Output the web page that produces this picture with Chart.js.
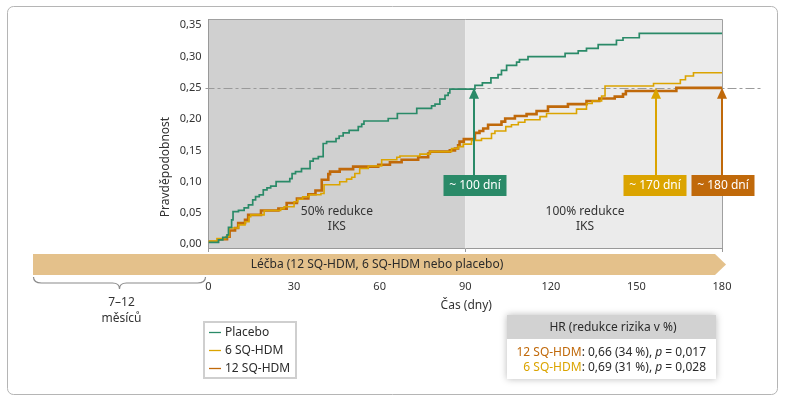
<!DOCTYPE html>
<html>
<head>
<meta charset="utf-8">
<script src="https://cdn.jsdelivr.net/npm/chart.js@4.4.0/dist/chart.umd.min.js"></script>
<style>
  html, body { margin: 0; padding: 0; background: #fff; }
  #wrap { position: relative; width: 788px; height: 398px; }
</style>
</head>
<body>
<div id="wrap"><canvas id="km"></canvas></div>
<script>
// Kaplan-Meier: cumulative probability of event, day -> value
const placeboDays = [0, 3.5, 5, 6.5, 7, 8.1, 8.6, 10.5, 12.5, 14, 15.5, 16.5, 17.8, 19.2, 20.5, 21.8, 23.7, 28.5, 29.3, 30.5, 32.6, 35.6, 36.7, 38.5, 40.2, 41.4, 44.7, 45.8, 47.2, 49.3, 52.5, 53.7, 54.5, 63, 66.2, 73, 78.2, 79.4, 81.1, 82.9, 84, 84.6, 93.4, 96, 99, 101.5, 102.7, 104.5, 108, 109, 112, 125, 129.6, 132.5, 136.6, 143, 145.3, 151, 180];
const placeboProb = [0.003, 0.007, 0.011, 0.015, 0.027, 0.039, 0.052, 0.054, 0.058, 0.063, 0.071, 0.076, 0.079, 0.087, 0.09, 0.093, 0.1, 0.105, 0.113, 0.116, 0.121, 0.133, 0.137, 0.14, 0.161, 0.164, 0.169, 0.173, 0.178, 0.182, 0.188, 0.192, 0.197, 0.201, 0.209, 0.217, 0.221, 0.224, 0.232, 0.238, 0.242, 0.248, 0.254, 0.258, 0.266, 0.271, 0.278, 0.286, 0.291, 0.295, 0.3, 0.305, 0.309, 0.313, 0.319, 0.326, 0.33, 0.337, 0.337];

const sq6Days = [0, 3, 6, 7.2, 10.5, 12.8, 14.2, 14.8, 19.5, 25.3, 26.5, 30, 31.3, 33, 35.3, 39.4, 40.5, 46, 48.4, 50.2, 51.3, 53, 56, 60.7, 66, 67.1, 74.1, 77.6, 85.2, 87.5, 89.3, 92.2, 95.7, 99.2, 100.4, 104.2, 106.2, 108.6, 110.9, 116.2, 118.5, 129, 132.5, 134.5, 137.8, 139, 156, 165.4, 167.2, 170, 180];
const sq6Prob = [0.005, 0.009, 0.012, 0.026, 0.031, 0.036, 0.044, 0.047, 0.054, 0.057, 0.06, 0.068, 0.072, 0.076, 0.079, 0.081, 0.095, 0.1, 0.104, 0.107, 0.113, 0.121, 0.125, 0.135, 0.139, 0.141, 0.144, 0.148, 0.153, 0.156, 0.16, 0.166, 0.169, 0.177, 0.181, 0.188, 0.191, 0.195, 0.199, 0.204, 0.209, 0.216, 0.225, 0.229, 0.237, 0.253, 0.257, 0.263, 0.269, 0.274, 0.274];

const sq12Days = [0, 3.3, 6.5, 7.4, 9.3, 10.4, 12.8, 13.9, 18.4, 24.5, 27.4, 31, 35, 37.5, 39.7, 42, 42.6, 46, 50.7, 59.5, 63.6, 67.7, 73.5, 77, 77.6, 84.6, 86.4, 87.5, 88, 89.5, 93.4, 95, 96.3, 98, 102.7, 104, 107.4, 111.5, 115, 119, 126, 132.5, 137, 142.4, 145.3, 146.3, 164, 180];
const sq12Prob = [0.004, 0.008, 0.012, 0.022, 0.026, 0.034, 0.039, 0.047, 0.054, 0.057, 0.066, 0.073, 0.08, 0.086, 0.103, 0.112, 0.116, 0.12, 0.124, 0.127, 0.131, 0.135, 0.139, 0.145, 0.148, 0.15, 0.153, 0.158, 0.164, 0.168, 0.178, 0.181, 0.185, 0.191, 0.196, 0.201, 0.205, 0.208, 0.213, 0.22, 0.224, 0.229, 0.233, 0.236, 0.24, 0.245, 0.25, 0.25];

const seriesNames = ['Placebo', '6 SQ-HDM', '12 SQ-HDM'];
const xTicks = [0, 30, 60, 90, 120, 150, 180];
const yTicks = [0, 0.05, 0.1, 0.15, 0.2, 0.25, 0.3, 0.35];

// time to reach 25 % probability
const reachLevel = 0.25;
const arrowDays = [93, 157, 180];
const arrowTexts = ['~ 100 dní', '~ 170 dní', '~ 180 dní'];

const GREEN = '#2a8a68', YELLOW = '#dba400', ORANGE = '#c0690a';
const FONT = '"Noto Sans", "Open Sans", sans-serif';

function pts(days, vals) {
  return days.map((d, i) => ({ x: d, y: vals[i] }));
}

function richRight(ctx, parts, right, y) {
  let w = 0;
  parts.forEach(p => { ctx.font = p.f; w += ctx.measureText(p.t).width; });
  let x = right - w;
  ctx.textAlign = 'left';
  parts.forEach(p => {
    ctx.font = p.f; ctx.fillStyle = p.c;
    ctx.fillText(p.t, x, y);
    x += ctx.measureText(p.t).width;
  });
}

const decor = {
  id: 'decor',
  beforeDraw(chart) {
    const { ctx, chartArea: a, scales: { x } } = chart;
    ctx.save();
    ctx.fillStyle = '#fff';
    ctx.fillRect(0, 0, chart.width, chart.height);
    // outer frame
    ctx.strokeStyle = '#b5b5b5';
    ctx.lineWidth = 1;
    ctx.beginPath();
    ctx.roundRect(7.5, 6.5, 770, 388, 6);
    ctx.stroke();
    // two periods
    const x90 = x.getPixelForValue(90);
    ctx.fillStyle = '#d0d0d0';
    ctx.fillRect(a.left, a.top, x90 - a.left, a.bottom - a.top);
    ctx.fillStyle = '#ebebeb';
    ctx.fillRect(x90, a.top, a.right - x90, a.bottom - a.top);
    ctx.strokeStyle = '#a0a0a0';
    ctx.beginPath();
    ctx.moveTo(a.left, a.top + 0.5);
    ctx.lineTo(a.right + 0.5, a.top + 0.5);
    ctx.lineTo(a.right + 0.5, a.bottom);
    ctx.stroke();
    ctx.restore();
  },
  beforeDatasetsDraw(chart) {
    const { ctx, chartArea: a, scales: { y } } = chart;
    const yl = Math.round(y.getPixelForValue(reachLevel)) + 0.5;
    ctx.save();
    ctx.strokeStyle = '#9a9a9a';
    ctx.lineWidth = 1;
    ctx.setLineDash([9, 3, 3, 3]);
    ctx.beginPath();
    ctx.moveTo(a.left - 3, yl);
    ctx.lineTo(762, yl);
    ctx.stroke();
    ctx.restore();
  },
  afterDatasetsDraw(chart) {
    const { ctx, chartArea: a, scales: { x, y } } = chart;
    ctx.save();
    ctx.textBaseline = 'middle';

    // period labels
    ctx.fillStyle = '#333';
    ctx.font = '12px ' + FONT;
    ctx.textAlign = 'center';
    ctx.fillText('50% redukce', x.getPixelForValue(45), 212);
    ctx.fillText('IKS', x.getPixelForValue(45), 227);
    ctx.fillText('100% redukce', x.getPixelForValue(132), 212);
    ctx.fillText('IKS', x.getPixelForValue(132), 227);

    // arrows to 25 % level
    const colors = [GREEN, YELLOW, ORANGE];
    const boxCx = [475, 655, 723];
    const tipY = y.getPixelForValue(reachLevel);
    const boxTop = 175, boxH = 21, boxW = 63;
    arrowDays.forEach((d, i) => {
      const ax = Math.round(x.getPixelForValue(d));
      ctx.fillStyle = colors[i];
      ctx.strokeStyle = colors[i];
      ctx.lineWidth = 2;
      ctx.beginPath();
      ctx.moveTo(ax, tipY + 8);
      ctx.lineTo(ax, boxTop);
      ctx.stroke();
      ctx.beginPath();
      ctx.moveTo(ax, tipY);
      ctx.lineTo(ax - 5, tipY + 11);
      ctx.lineTo(ax + 5, tipY + 11);
      ctx.closePath();
      ctx.fill();
      ctx.fillRect(boxCx[i] - boxW / 2, boxTop, boxW, boxH);
      ctx.fillStyle = '#fff';
      ctx.font = '12px ' + FONT;
      ctx.textAlign = 'center';
      ctx.fillText(arrowTexts[i], boxCx[i], boxTop + boxH / 2 + 0.5);
    });

    // treatment bar
    const barL = 33, barR = x.getPixelForValue(180) - 7, tip = x.getPixelForValue(180) + 4;
    ctx.fillStyle = '#e4c18b';
    ctx.beginPath();
    ctx.moveTo(barL, 254);
    ctx.lineTo(barR, 254);
    ctx.lineTo(tip, 264.5);
    ctx.lineTo(barR, 275);
    ctx.lineTo(barL, 275);
    ctx.closePath();
    ctx.fill();
    ctx.fillStyle = '#2b2b2b';
    ctx.font = '12px ' + FONT;
    ctx.textAlign = 'center';
    ctx.fillText('Léčba (12 SQ-HDM, 6 SQ-HDM nebo placebo)', 377, 265);

    // brace for run-in period
    const bl = 33.5, br = x.getPixelForValue(0) - 3, bm = (bl + br) / 2;
    ctx.strokeStyle = '#8a8a8a';
    ctx.lineWidth = 1.2;
    ctx.beginPath();
    ctx.moveTo(bl, 277);
    ctx.quadraticCurveTo(bl, 283, bl + 8, 283);
    ctx.lineTo(bm - 7, 283);
    ctx.quadraticCurveTo(bm, 283, bm, 289);
    ctx.quadraticCurveTo(bm, 283, bm + 7, 283);
    ctx.lineTo(br - 8, 283);
    ctx.quadraticCurveTo(br, 283, br, 277);
    ctx.stroke();
    ctx.fillStyle = '#333';
    ctx.fillText('7–12', bm + 2, 303);
    ctx.fillText('měsíců', bm + 2, 319);

    // axis titles
    ctx.fillText('Čas (dny)', x.getPixelForValue(90) + 1, 306);
    ctx.save();
    ctx.translate(166, 167);
    ctx.rotate(-Math.PI / 2);
    ctx.fillText('Pravděpodobnost', 0, 0);
    ctx.restore();

    // legend
    ctx.strokeStyle = '#cfcfcf';
    ctx.lineWidth = 2;
    ctx.strokeRect(204, 322, 92, 56);
    const legColors = [GREEN, YELLOW, ORANGE];
    seriesNames.forEach((n, i) => {
      const ly = 332.5 + i * 18;
      ctx.strokeStyle = legColors[i];
      ctx.lineWidth = 1.3;
      ctx.beginPath();
      ctx.moveTo(209, ly);
      ctx.lineTo(221, ly);
      ctx.stroke();
      ctx.fillStyle = '#2b2b2b';
      ctx.textAlign = 'left';
      ctx.font = '12px ' + FONT;
      ctx.fillText(n, 225, ly);
    });

    // HR box
    ctx.save();
    ctx.shadowColor = 'rgba(0,0,0,0.28)';
    ctx.shadowBlur = 7;
    ctx.fillStyle = '#fff';
    ctx.fillRect(507, 315, 209, 64);
    ctx.restore();
    ctx.fillStyle = '#d2d2d2';
    ctx.fillRect(507, 315, 209, 24);
    ctx.fillStyle = '#2b2b2b';
    ctx.font = '12px ' + FONT;
    ctx.textAlign = 'center';
    ctx.fillText('HR (redukce rizika v %)', 613, 327.5);
    const f = '12px ' + FONT, fi = 'italic 12px ' + FONT, dk = '#2b2b2b';
    richRight(ctx, [
      { t: '12 SQ-HDM', f, c: ORANGE }, { t: ': 0,66 (34 %), ', f, c: dk },
      { t: 'p', f: fi, c: dk }, { t: ' = 0,017', f, c: dk }], 706, 352.5);
    richRight(ctx, [
      { t: '6 SQ-HDM', f, c: YELLOW }, { t: ': 0,69 (31 %), ', f, c: dk },
      { t: 'p', f: fi, c: dk }, { t: ' = 0,028', f, c: dk }], 706, 367.5);

    ctx.restore();
  }
};

new Chart(document.getElementById('km'), {
  type: 'line',
  data: {
    datasets: [
      { label: seriesNames[2], data: pts(sq12Days, sq12Prob), borderColor: ORANGE, borderWidth: 2.6, order: 3 },
      { label: seriesNames[1], data: pts(sq6Days, sq6Prob), borderColor: YELLOW, borderWidth: 1.6, order: 2 },
      { label: seriesNames[0], data: pts(placeboDays, placeboProb), borderColor: GREEN, borderWidth: 1.7, order: 1 }
    ]
  },
  options: {
    responsive: true,
    maintainAspectRatio: false,
    animation: false,
    devicePixelRatio: 1,
    layout: { padding: { left: 0, right: 66, top: 19, bottom: 0 } },
    elements: {
      line: { stepped: 'before', fill: false, tension: 0, borderJoinStyle: 'miter', borderCapStyle: 'butt' },
      point: { radius: 0, hoverRadius: 0 }
    },
    plugins: {
      legend: { display: false },
      tooltip: { enabled: false }
    },
    scales: {
      x: {
        type: 'linear',
        min: 0,
        max: 180,
        afterFit: s => { s.height = 150; },
        afterBuildTicks: s => { s.ticks = xTicks.map(v => ({ value: v })); },
        ticks: { padding: 28, maxRotation: 0, autoSkip: false, color: '#333', font: { family: FONT, size: 11 } },
        grid: {
          drawOnChartArea: false,
          tickLength: 4,
          color: c => (c.tick && c.tick.value % 90 === 0 ? '#999' : 'rgba(0,0,0,0)')
        },
        border: { color: '#999' }
      },
      y: {
        min: -0.006,
        max: 0.36,
        afterFit: s => { s.width = 208.5; },
        afterBuildTicks: s => { s.ticks = yTicks.map(v => ({ value: v })); },
        ticks: {
          padding: 7,
          color: '#333',
          font: { family: FONT, size: 11 },
          callback: v => v.toFixed(2).replace('.', ',')
        },
        grid: { display: false, drawTicks: false },
        border: { color: '#999' }
      }
    }
  },
  plugins: [decor]
});

document.getElementById('wrap');
</script>
</body>
</html>
